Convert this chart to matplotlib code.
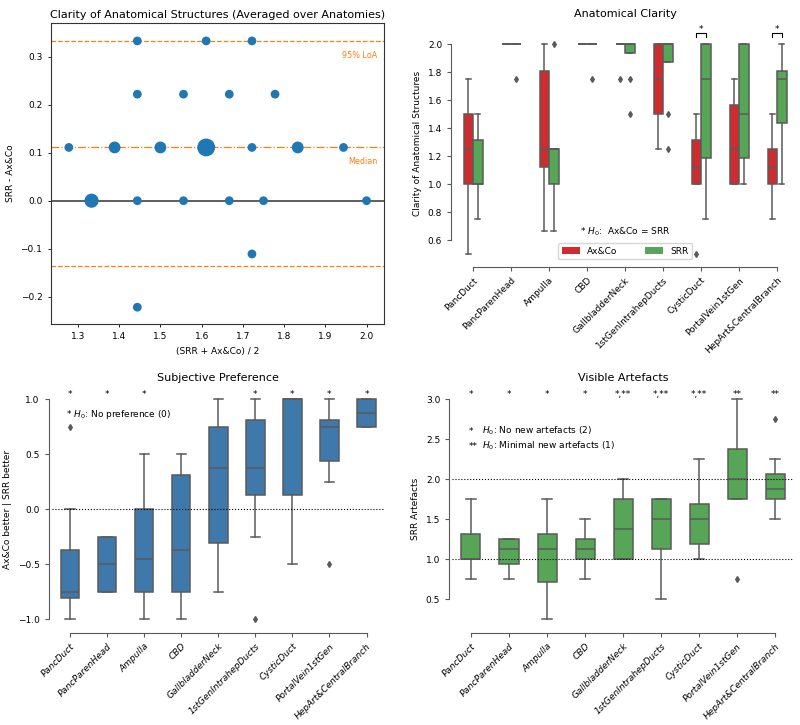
import matplotlib
matplotlib.use('Agg')
import matplotlib.pyplot as plt
from matplotlib.patches import Patch

# Anatomy categories shared by the three box plots
anatomies = ['PancDuct', 'PancParenHead', 'Ampulla', 'CBD', 'GallbladderNeck',
             '1stGenIntrahepDucts', 'CysticDuct', 'PortalVein1stGen', 'HepArt&CentralBranch']

# Bland-Altman: mean of both ratings, difference, number of overlapping cases
ba_mean = [1.444, 1.611, 1.722,
           1.444, 1.556, 1.667, 1.778,
           1.278, 1.389, 1.5, 1.611, 1.722, 1.833, 1.944,
           1.333, 1.444, 1.556, 1.667, 1.75, 2.0,
           1.722, 1.444]
ba_diff = [0.333, 0.333, 0.333,
           0.222, 0.222, 0.222, 0.222,
           0.111, 0.111, 0.111, 0.111, 0.111, 0.111, 0.111,
           0.0, 0.0, 0.0, 0.0, 0.0, 0.0,
           -0.111, -0.222]
ba_count = [1, 1, 1,
            1, 1, 1, 1,
            1, 2, 2, 5, 1, 2, 1,
            3, 1, 1, 1, 1, 1,
            1, 1]
ba_median = 0.111
ba_loa_upper = 0.333
ba_loa_lower = -0.136

# Anatomical clarity, Ax&Co
axco_q1 = [1.0, 2.0, 1.125, 2.0, 2.0, 1.5, 1.0, 1.0, 1.0]
axco_med = [1.25, 2.0, 1.25, 2.0, 2.0, 1.75, 1.125, 1.25, 1.125]
axco_q3 = [1.5, 2.0, 1.8125, 2.0, 2.0, 2.0, 1.3125, 1.5625, 1.25]
axco_lo = [0.5, 2.0, 0.667, 2.0, 2.0, 1.25, 1.0, 1.0, 0.75]
axco_hi = [1.75, 2.0, 2.0, 2.0, 2.0, 2.0, 1.5, 1.75, 1.5]
axco_fliers = [[], [], [], [], [1.75], [], [0.5], [], []]

# Anatomical clarity, SRR
srr_q1 = [1.0, 2.0, 1.0, 2.0, 1.9375, 1.875, 1.1875, 1.1875, 1.4375]
srr_med = [1.0, 2.0, 1.25, 2.0, 2.0, 2.0, 1.75, 1.5, 1.75]
srr_q3 = [1.3125, 2.0, 1.25, 2.0, 2.0, 2.0, 2.0, 2.0, 1.8125]
srr_lo = [0.75, 2.0, 0.667, 2.0, 1.9375, 1.875, 0.75, 1.0, 1.0]
srr_hi = [1.5, 2.0, 1.25, 2.0, 2.0, 2.0, 2.0, 2.0, 2.0]
srr_fliers = [[], [1.75], [2.0], [1.75], [1.75, 1.5], [1.5, 1.25], [], [], []]
clarity_sig = [6, 8]

# Subjective preference
pref_q1 = [-0.8125, -0.75, -0.75, -0.75, -0.3125, 0.125, 0.125, 0.4375, 0.75]
pref_med = [-0.75, -0.5, -0.4583, -0.375, 0.375, 0.375, 1.0, 0.75, 0.875]
pref_q3 = [-0.375, -0.25, 0.0, 0.3125, 0.75, 0.8125, 1.0, 0.8125, 1.0]
pref_lo = [-1.0, -0.75, -1.0, -1.0, -0.75, -0.25, -0.5, 0.25, 0.75]
pref_hi = [0.0, -0.25, 0.5, 0.5, 1.0, 1.0, 1.0, 1.0, 1.0]
pref_fliers = [[0.75], [], [], [], [], [-1.0], [], [-0.5], []]
pref_sig = ['*', '*', '*', '', '', '*', '*', '*', '*']

# Visible artefacts (SRR)
art_q1 = [1.0, 0.9375, 0.71875, 1.0, 1.0, 1.125, 1.1875, 1.75, 1.75]
art_med = [1.0, 1.125, 1.125, 1.125, 1.375, 1.5, 1.5, 2.0, 1.875]
art_q3 = [1.3125, 1.25, 1.3125, 1.25, 1.75, 1.75, 1.6875, 2.375, 2.0625]
art_lo = [0.75, 0.75, 0.25, 0.75, 1.0, 0.5, 1.0, 1.75, 1.5]
art_hi = [1.75, 1.25, 1.75, 1.5, 2.0, 1.75, 2.25, 3.0, 2.25]
art_fliers = [[], [], [], [], [], [], [], [0.75], [2.75]]
art_sig = ['*', '*', '*', '*', '*,**', '*,**', '*,**', '**', '**']

red = '#d02c30'
green = '#57a557'
blue = '#3f78aa'
line_grey = '#5a5a5a'
orange = '#ff7f0e'
fs = 6.5
title_fs = 8


def make_stats(q1, med, q3, lo, hi, fliers):
    return [dict(q1=a, med=b, q3=c, whislo=d, whishi=e, fliers=f)
            for a, b, c, d, e, f in zip(q1, med, q3, lo, hi, fliers)]


def draw_boxes(ax, stats, positions, width, color):
    ax.bxp(stats, positions=positions, widths=width, patch_artist=True,
           showfliers=True, capwidths=width / 2,
           boxprops=dict(facecolor=color, edgecolor=line_grey, linewidth=1.1),
           whiskerprops=dict(color=line_grey, linewidth=1.1),
           capprops=dict(color=line_grey, linewidth=1.1),
           medianprops=dict(color=line_grey, linewidth=1.1),
           flierprops=dict(marker='d', markerfacecolor=line_grey,
                           markeredgecolor=line_grey, markersize=3))


def style_box_axes(ax, yticks, italic):
    for s in ['top', 'right']:
        ax.spines[s].set_visible(False)
    for s in ['left', 'bottom']:
        ax.spines[s].set_position(('outward', 2))
        ax.spines[s].set_color(line_grey)
    ax.spines['left'].set_bounds(yticks[0], yticks[-1])
    ax.spines['bottom'].set_bounds(0, len(anatomies) - 1)
    ax.set_yticks(yticks)
    ax.set_xticks(range(len(anatomies)))
    ax.set_xticklabels(anatomies, rotation=45, ha='right', rotation_mode='anchor',
                       fontsize=fs, style='italic' if italic else 'normal')
    ax.set_xlim(-0.5, len(anatomies) - 0.5)
    ax.tick_params(labelsize=fs, length=3, width=0.8, color=line_grey)


fig = plt.figure(figsize=(8, 7.25), dpi=100)

# Bland-Altman plot
ax1 = fig.add_axes([0.0634, 0.5531, 0.417, 0.4156])
ax1.scatter(ba_mean, ba_diff, s=[28 * c for c in ba_count], color='#1f77b4', zorder=3)
ax1.axhline(0, color='k', lw=1.1, alpha=0.8)
ax1.axhline(ba_median, color=orange, lw=0.9, ls='-.')
ax1.axhline(ba_loa_upper, color=orange, lw=0.9, ls='--')
ax1.axhline(ba_loa_lower, color=orange, lw=0.9, ls='--')
ax1.text(0.98, ba_loa_upper - 0.03, '95% LoA', transform=ax1.get_yaxis_transform(),
         ha='right', va='center', color=orange, fontsize=5.8)
ax1.text(0.98, ba_median - 0.03, 'Median', transform=ax1.get_yaxis_transform(),
         ha='right', va='center', color=orange, fontsize=5.8)
ax1.set_xlim(1.234, 2.043)
ax1.set_ylim(-0.257, 0.371)
ax1.set_xlabel('(SRR + Ax&Co) / 2', fontsize=fs)
ax1.set_ylabel('SRR - Ax&Co', fontsize=fs)
ax1.set_title('Clarity of Anatomical Structures (Averaged over Anatomies)', fontsize=title_fs, pad=3.5)
ax1.tick_params(labelsize=fs, length=2.5, width=0.6)
for s in ax1.spines.values():
    s.set_linewidth(0.8)
    s.set_color('#333333')

# Anatomical clarity
ax2 = fig.add_axes([0.5675, 0.6361, 0.4275, 0.3317])
pos = list(range(len(anatomies)))
draw_boxes(ax2, make_stats(axco_q1, axco_med, axco_q3, axco_lo, axco_hi, axco_fliers),
           [p - 0.125 for p in pos], 0.25, red)
draw_boxes(ax2, make_stats(srr_q1, srr_med, srr_q3, srr_lo, srr_hi, srr_fliers),
           [p + 0.125 for p in pos], 0.25, green)
ax2.set_ylim(0.43, 2.15)
style_box_axes(ax2, [0.6, 0.8, 1.0, 1.2, 1.4, 1.6, 1.8, 2.0], italic=False)
for i in clarity_sig:
    ax2.plot([i - 0.125, i - 0.125, i + 0.125, i + 0.125], [2.055, 2.08, 2.08, 2.055],
             color='k', lw=0.8, clip_on=False)
    ax2.text(i, 2.085, '*', ha='center', va='baseline', fontsize=fs)
ax2.set_ylabel('Clarity of Anatomical Structures', fontsize=fs)
ax2.set_title('Anatomical Clarity', fontsize=title_fs, pad=4.5)
ax2.text(4, 0.66, '* $H_0$:  Ax&Co = SRR', ha='center', va='center', fontsize=fs)
ax2.legend(handles=[Patch(facecolor=red, label='Ax&Co'), Patch(facecolor=green, label='SRR')],
           loc='lower center', bbox_to_anchor=(0.5, 0.0), ncol=2, fontsize=fs,
           columnspacing=3)

# Subjective preference
ax3 = fig.add_axes([0.0644, 0.131, 0.4169, 0.3338])
draw_boxes(ax3, make_stats(pref_q1, pref_med, pref_q3, pref_lo, pref_hi, pref_fliers),
           pos, 0.5, blue)
ax3.axhline(0, color='k', lw=0.8, ls=':')
ax3.set_ylim(-1.1, 1.1)
style_box_axes(ax3, [-1.0, -0.5, 0.0, 0.5, 1.0], italic=True)
for i, sig in enumerate(pref_sig):
    ax3.text(i, 1.02, sig, ha='center', va='baseline', fontsize=fs)
ax3.text(-0.1, 0.86, '* $H_0$: No preference (0)', ha='left', va='center', fontsize=fs)
ax3.set_ylabel('Ax&Co better | SRR better', fontsize=fs)
ax3.set_title('Subjective Preference', fontsize=title_fs, pad=5)

# Visible artefacts
ax4 = fig.add_axes([0.565, 0.131, 0.4275, 0.3338])
draw_boxes(ax4, make_stats(art_q1, art_med, art_q3, art_lo, art_hi, art_fliers),
           pos, 0.5, green)
ax4.axhline(1.0, color='k', lw=0.8, ls=':')
ax4.axhline(2.0, color='k', lw=0.8, ls=':')
ax4.set_ylim(0.1125, 3.1375)
style_box_axes(ax4, [0.5, 1.0, 1.5, 2.0, 2.5, 3.0], italic=True)
for i, sig in enumerate(art_sig):
    ax4.text(i, 3.03, sig, ha='center', va='baseline', fontsize=fs)
ax4.text(-0.05, 2.6, '*', ha='left', va='center', fontsize=fs)
ax4.text(0.28, 2.6, '$H_0$: No new artefacts (2)', ha='left', va='center', fontsize=fs)
ax4.text(-0.05, 2.41, '**', ha='left', va='center', fontsize=fs)
ax4.text(0.28, 2.41, '$H_0$: Minimal new artefacts (1)', ha='left', va='center', fontsize=fs)
ax4.set_ylabel('SRR Artefacts', fontsize=fs)
ax4.set_title('Visible Artefacts', fontsize=title_fs, pad=5)

fig.savefig('out.png', dpi=100)
